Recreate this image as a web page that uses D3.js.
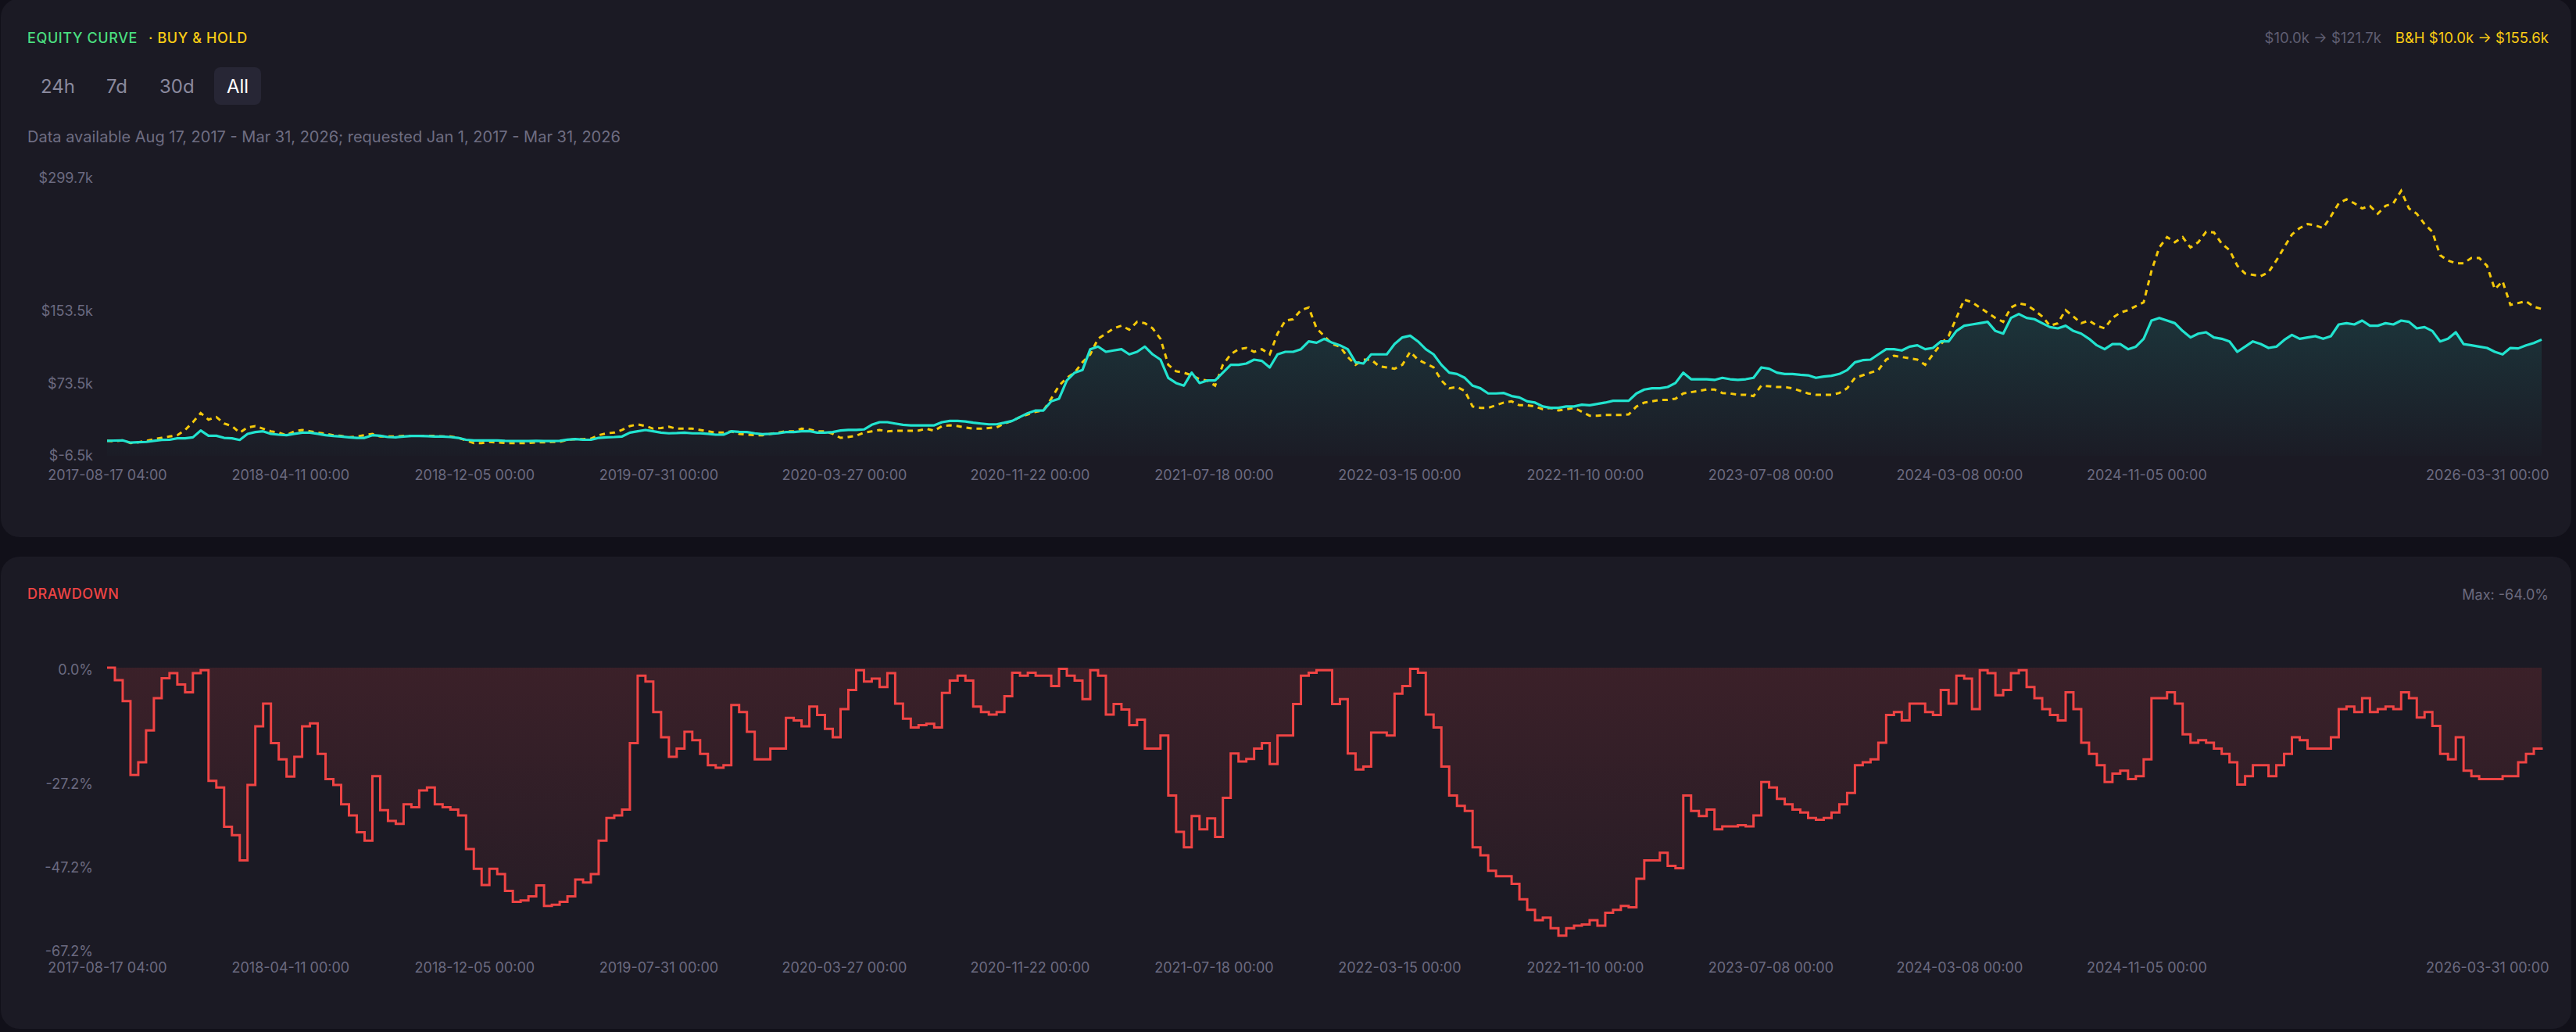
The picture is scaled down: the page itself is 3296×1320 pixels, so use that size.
<!DOCTYPE html>
<html>
<head>
  <meta charset="utf-8">
  <title>equity curve</title>
  <style>
    html, body {
      margin: 0;
      padding: 0;
      background: #111019;
    }
    svg text {
      font-family: Inter, 'Noto Sans', sans-serif;
    }
    .panel {
      fill: #1b1a24;
    }
    .axis text {
      fill: #6b6a80;
      font-size: 18px;
    }
    .axis path,
    .axis line {
      display: none;
    }
    .title {
      font-size: 18px;
      font-weight: 500;
      letter-spacing: 0.6px;
    }
    .btn {
      fill: #8a899d;
      font-size: 24px;
    }
  </style>
</head>
<body>
<script src="https://d3js.org/d3.v7.min.js"></script>
<script>
  var width = 3296,
      height = 1320;

  // strategy equity, $k, evenly spaced samples from first to last bar
  var equity = [10.0, 10.3, 10.5, 8.0, 8.5, 8.8, 10.0, 11.0, 11.2, 12.8,
    12.8, 13.9, 21.4, 15.6, 15.6, 13.3, 12.8, 11.0, 17.7, 19.7,
    20.5, 17.7, 16.8, 16.2, 17.7, 19.1, 19.1, 17.7, 16.2, 15.4,
    14.8, 13.9, 13.3, 13.3, 16.2, 15.6, 14.2, 13.9, 14.8, 15.4,
    15.4, 15.1, 14.8, 14.8, 14.2, 13.3, 11.2, 10.5, 10.5, 10.5,
    10.5, 10.0, 9.8, 9.8, 9.8, 10.0, 9.8, 9.8, 10.0, 11.3,
    11.9, 11.3, 11.2, 13.3, 13.9, 14.2, 14.8, 19.1, 20.5, 22.0,
    20.5, 19.1, 18.3, 18.6, 19.1, 18.3, 18.3, 17.7, 16.8, 16.8,
    20.5, 19.9, 19.7, 18.3, 17.4, 17.7, 18.3, 19.7, 19.7, 20.5,
    20.8, 19.1, 19.1, 19.7, 21.4, 22.0, 22.0, 22.6, 27.7, 30.6,
    30.6, 29.1, 27.7, 27.1, 27.1, 27.1, 27.1, 30.6, 32.0, 32.0,
    31.4, 30.0, 29.1, 28.2, 28.2, 30.0, 32.0, 36.3, 40.6, 43.5,
    43.5, 53.6, 56.5, 76.6, 85.2, 88.1, 111.1, 114.0, 108.2, 109.7,
    111.1, 105.4, 108.2, 114.0, 105.4, 99.6, 79.5, 73.8, 70.9, 85.2,
    73.8, 76.6, 76.6, 85.2, 93.9, 93.9, 95.3, 99.6, 98.2, 91.0,
    105.4, 108.2, 108.2, 111.1, 119.7, 118.3, 122.6, 118.3, 115.4, 111.1,
    96.7, 95.3, 105.4, 105.4, 105.4, 116.8, 124.1, 126.0, 119.7, 111.1,
    105.4, 93.9, 85.2, 83.8, 79.5, 70.9, 68.0, 62.3, 62.3, 62.8,
    59.4, 57.9, 53.6, 52.2, 47.9, 46.4, 46.4, 47.9, 47.9, 49.9,
    49.3, 50.8, 52.2, 54.2, 54.2, 54.2, 62.3, 66.6, 68.0, 68.0,
    69.4, 73.8, 85.2, 78.0, 78.0, 78.0, 77.2, 79.5, 78.0, 77.2,
    78.0, 79.5, 91.0, 89.6, 85.2, 83.8, 83.8, 82.9, 82.3, 79.5,
    80.9, 81.8, 83.8, 88.1, 96.7, 99.0, 99.6, 105.4, 111.1, 111.1,
    109.7, 113.9, 115.4, 111.1, 112.5, 119.7, 119.7, 131.2, 137.0, 138.4,
    139.8, 141.3, 131.2, 128.3, 145.6, 149.9, 145.6, 144.2, 139.8, 135.5,
    134.1, 137.0, 131.2, 128.3, 122.6, 115.4, 111.1, 116.8, 116.8, 111.1,
    113.9, 122.6, 142.7, 145.6, 142.7, 139.8, 131.2, 124.1, 128.3, 129.8,
    124.1, 122.6, 119.7, 108.2, 113.9, 119.7, 116.8, 112.5, 113.9, 121.2,
    126.9, 122.6, 124.1, 125.5, 122.6, 125.5, 138.4, 139.8, 138.4, 142.7,
    137.0, 137.0, 139.8, 138.4, 142.7, 141.3, 134.1, 135.5, 131.2, 119.7,
    122.6, 129.8, 116.8, 115.4, 113.9, 112.5, 108.2, 105.4, 112.5, 112.0,
    115.4, 118.0, 121.7];

  // buy & hold, $k, same sample dates
  var buyHold = [10.0, 9.6, 10.5, 7.6, 8.3, 10.0, 11.9, 13.3, 14.8, 16.2,
    22.0, 30.6, 40.6, 33.4, 36.3, 29.1, 26.3, 19.1, 24.8, 26.3,
    23.4, 20.5, 19.1, 16.2, 20.5, 22.0, 20.5, 19.1, 17.7, 16.2,
    15.4, 13.9, 14.8, 16.2, 17.7, 14.8, 14.8, 14.8, 15.4, 15.4,
    15.4, 15.4, 15.4, 14.8, 14.8, 13.3, 10.5, 7.6, 7.6, 8.8,
    8.3, 7.6, 7.6, 7.6, 7.6, 8.3, 8.3, 8.8, 9.0, 11.0,
    11.9, 11.9, 12.4, 16.2, 18.3, 19.1, 22.0, 26.3, 28.2, 26.3,
    23.4, 24.2, 25.5, 23.4, 23.4, 23.4, 22.0, 20.5, 19.1, 19.1,
    20.5, 17.7, 16.8, 16.2, 16.2, 17.7, 19.1, 20.5, 20.5, 23.4,
    22.6, 20.5, 20.5, 17.7, 13.3, 14.2, 15.6, 19.1, 20.5, 22.0,
    20.5, 21.1, 21.1, 21.1, 21.4, 23.4, 21.1, 26.3, 27.1, 26.3,
    24.8, 23.4, 23.4, 24.2, 24.8, 29.1, 32.0, 36.3, 39.1, 42.1,
    43.5, 56.5, 70.9, 79.5, 85.2, 96.7, 105.4, 122.6, 128.3, 134.1,
    137.0, 132.7, 141.3, 139.8, 134.1, 122.6, 93.9, 86.7, 85.2, 82.3,
    78.0, 76.6, 70.9, 93.9, 105.4, 111.1, 112.5, 108.2, 111.1, 105.4,
    128.3, 142.7, 144.2, 154.2, 157.1, 134.1, 125.5, 116.8, 113.9, 102.5,
    93.9, 99.6, 99.6, 92.4, 91.0, 89.6, 93.9, 108.2, 99.6, 95.3,
    91.0, 76.6, 68.0, 69.4, 65.1, 47.9, 46.4, 46.4, 49.3, 52.2,
    53.6, 49.3, 49.3, 47.9, 44.9, 46.4, 43.5, 44.9, 46.4, 42.1,
    37.7, 37.7, 38.6, 38.6, 38.6, 39.1, 47.9, 52.2, 53.6, 55.1,
    55.1, 56.5, 62.3, 63.7, 65.1, 66.6, 66.6, 62.8, 62.3, 60.8,
    60.8, 59.4, 70.9, 70.3, 69.4, 69.4, 68.0, 65.1, 62.3, 60.8,
    60.8, 60.8, 62.8, 68.0, 79.5, 82.3, 85.2, 88.1, 99.6, 103.9,
    102.5, 101.0, 99.6, 93.9, 105.4, 116.8, 125.5, 145.6, 165.8, 162.9,
    157.1, 151.4, 145.6, 141.3, 157.1, 161.5, 160.0, 154.2, 147.1, 137.0,
    139.8, 154.2, 147.1, 139.8, 142.7, 137.0, 134.1, 145.6, 151.4, 154.2,
    158.6, 162.9, 197.4, 223.3, 234.8, 229.1, 234.8, 223.3, 229.1, 240.6,
    240.0, 227.6, 220.5, 203.2, 194.6, 193.1, 191.7, 196.0, 208.9, 223.3,
    237.7, 244.8, 249.2, 247.7, 244.8, 257.8, 272.1, 276.5, 272.1, 266.4,
    269.2, 260.6, 269.2, 272.1, 285.8, 266.4, 260.6, 249.2, 240.6, 214.7,
    208.9, 206.0, 206.0, 211.8, 211.8, 203.2, 177.3, 186.0, 160.0, 162.0,
    164.0, 158.0, 155.6];

  // drawdown from running peak, %
  var drawdown = [0, -3, -8, -25.6, -22.6, -15, -7.3, -2.5, -1.3, -4,
    -5.9, -1.3, -0.6, -27, -28.6, -38, -40, -46, -28, -14,
    -8.6, -18, -21.9, -26, -21.3, -14, -13.3, -20.6, -26.6, -28,
    -32.6, -35.3, -39.3, -41.3, -25.9, -34, -36.6, -37.3, -32.6, -33.3,
    -29.3, -28.6, -32.6, -33.3, -33.9, -35.3, -43.3, -48, -51.9, -48,
    -49.3, -53.3, -55.9, -55.6, -54.6, -52, -56.9, -56.6, -55.9, -54.6,
    -50.6, -51.3, -49.3, -41.3, -35.9, -35.3, -33.9, -18, -1.9, -3.3,
    -10.6, -16.6, -21.3, -19.3, -15.3, -17.3, -20.6, -23.3, -23.9, -23.3,
    -8.9, -10.6, -15.3, -21.9, -21.9, -19.3, -19.3, -12, -12.6, -14,
    -9.3, -11.3, -14.6, -16.6, -9.9, -5.3, -0.6, -3.3, -2.6, -4.6,
    -1.3, -8.6, -12.2, -14.3, -13.7, -13.4, -14.3, -6, -3.1, -1.9,
    -3.1, -9.3, -10.6, -11.2, -10.6, -6.8, -1.2, -1.9, -1.2, -1.9,
    -1.9, -4.4, -0.3, -1.9, -3.1, -7.5, -0.6, -1.9, -11.2, -8.7,
    -10.0, -13.7, -12.4, -19.3, -19.3, -16.2, -30.5, -39.2, -42.9, -35.4,
    -38.6, -36, -40.4, -31.1, -20.5, -22.4, -21.8, -19.3, -18.0, -23,
    -16.2, -16.2, -8.7, -1.9, -1.2, -0.6, -0.6, -8.7, -7.5, -20.5,
    -24.3, -23.6, -15.5, -15.5, -16.2, -6.2, -4.4, -0.3, -1.2, -11.2,
    -14.3, -23.6, -30.5, -33, -34.2, -42.9, -44.8, -48.5, -49.8, -49.8,
    -51.6, -55.3, -57.8, -60.3, -59.7, -62.2, -64.0, -62.2, -61.6, -61.3,
    -60.3, -61.6, -58.5, -57.8, -56.9, -57.2, -50.4, -46, -46.0, -44.2,
    -47.3, -47.9, -30.5, -34.2, -35.4, -33.9, -38.6, -37.9, -37.9, -37.6,
    -37.9, -35.3, -27.3, -28.6, -31.3, -32.6, -33.9, -34.6, -35.9, -36.3,
    -35.9, -34.6, -32.6, -29.9, -23.3, -22.6, -21.9, -17.9, -11.3, -10.6,
    -12.6, -8.6, -8.6, -10.6, -11.3, -5.3, -8.6, -1.9, -2.6, -9.9,
    -0.6, -1.3, -6.6, -5.3, -1.3, -0.6, -4.6, -7.3, -9.9, -11.3,
    -12.6, -5.9, -9.9, -17.9, -20.6, -23.3, -27.3, -25.3, -24.6, -26.6,
    -25.9, -21.9, -7.3, -7.3, -5.9, -8.6, -15.9, -17.9, -17.3, -17.9,
    -19.3, -20.6, -22.6, -27.9, -25.9, -23.3, -23.3, -25.9, -23.3, -20.6,
    -16.6, -17.3, -19.3, -19.3, -19.3, -16.6, -9.9, -9.3, -10.6, -7.3,
    -10.6, -9.9, -9.3, -9.9, -5.9, -7.3, -11.9, -10.6, -13.9, -20.6,
    -21.9, -16.6, -24.6, -25.9, -26.6, -26.6, -26.6, -25.9, -25.9, -22.6,
    -20.6, -19.3, -19.6];

  var startLabel = '2017-08-17 04:00',
      endLabel = '2026-03-31 00:00';

  var xTickLabels = ['2017-08-17 04:00', '2018-04-11 00:00', '2018-12-05 00:00',
    '2019-07-31 00:00', '2020-03-27 00:00', '2020-11-22 00:00', '2021-07-18 00:00',
    '2022-03-15 00:00', '2022-11-10 00:00', '2023-07-08 00:00', '2024-03-08 00:00',
    '2024-11-05 00:00', '2026-03-31 00:00'];

  var equityTicks = [-6.5, 73.5, 153.5, 299.7];
  var drawdownTicks = [0, -27.2, -47.2, -67.2];

  var parseTime = d3.timeParse('%Y-%m-%d %H:%M');
  var t0 = parseTime(startLabel), t1 = parseTime(endLabel);

  var svg = d3.select('body')
    .append('svg')
    .attr('width', width)
    .attr('height', height);

  var defs = svg.append('defs');

  var tealGrad = defs.append('linearGradient')
    .attr('id', 'tealFill').attr('x1', 0).attr('y1', 0).attr('x2', 0).attr('y2', 1);
  tealGrad.append('stop').attr('offset', '0%').attr('stop-color', '#22e3cf').attr('stop-opacity', 0.13);
  tealGrad.append('stop').attr('offset', '100%').attr('stop-color', '#22e3cf').attr('stop-opacity', 0.01);

  var redGrad = defs.append('linearGradient')
    .attr('id', 'redFill').attr('x1', 0).attr('y1', 0).attr('x2', 0).attr('y2', 1);
  redGrad.append('stop').attr('offset', '0%').attr('stop-color', '#ef4444').attr('stop-opacity', 0.15);
  redGrad.append('stop').attr('offset', '100%').attr('stop-color', '#ef4444').attr('stop-opacity', 0.05);

  // cards
  svg.append('rect').attr('class', 'panel')
    .attr('x', 1).attr('y', -2).attr('width', 3289).attr('height', 689).attr('rx', 24);
  svg.append('rect').attr('class', 'panel')
    .attr('x', 1).attr('y', 712).attr('width', 3289).attr('height', 604).attr('rx', 24);

  var padding = {left: 137, right: 3252};

  var xScale = d3.scaleTime()
    .domain([t0, t1])
    .range([padding.left, padding.right]);

  // sample index -> date, for a series of n evenly spaced samples
  function sampleX(n) {
    var idx = d3.scaleLinear().domain([0, n - 1]).range([t0.getTime(), t1.getTime()]);
    return function(d, i) { return xScale(new Date(idx(i))); };
  }

  var yEq = d3.scaleLinear()
    .domain([equityTicks[0], equityTicks[equityTicks.length - 1]])
    .range([583, 228]);

  var yDd = d3.scaleLinear()
    .domain([drawdownTicks[drawdownTicks.length - 1], 0])
    .range([1214, 854]);

  // ---- header texts
  var head = svg.append('text').attr('class', 'title').attr('x', 35).attr('y', 48)
    .attr('dominant-baseline', 'central');
  head.append('tspan').attr('fill', '#4ade80').text('EQUITY CURVE');
  head.append('tspan').attr('fill', '#facc15').attr('dx', 14).text('· BUY & HOLD');

  var summary = svg.append('text').attr('x', 3261).attr('y', 48)
    .attr('text-anchor', 'end').attr('dominant-baseline', 'central')
    .style('font-size', '18.5px');
  summary.append('tspan').attr('fill', '#5f5e72').text('$10.0k → $121.7k');
  summary.append('tspan').attr('fill', '#facc15').attr('dx', 18).text('B&H $10.0k → $155.6k');

  var ranges = [{t: '24h', x: 52}, {t: '7d', x: 136}, {t: '30d', x: 204}, {t: 'All', x: 290, on: true}];
  svg.append('rect').attr('x', 274).attr('y', 86).attr('width', 60).attr('height', 48)
    .attr('rx', 8).attr('fill', '#272635');
  svg.selectAll('.btn')
    .data(ranges)
    .enter()
    .append('text')
    .attr('class', 'btn')
    .attr('x', function(d) { return d.x; })
    .attr('y', 110)
    .attr('dominant-baseline', 'central')
    .style('fill', function(d) { return d.on ? '#ffffff' : null; })
    .text(function(d) { return d.t; });

  svg.append('text').attr('x', 35).attr('y', 175).attr('dominant-baseline', 'central')
    .attr('fill', '#6e6d82').style('font-size', '20px')
    .text('Data available Aug 17, 2017 - Mar 31, 2026; requested Jan 1, 2017 - Mar 31, 2026');

  // ---- equity chart
  var eqArea = d3.area()
    .x(sampleX(equity.length))
    .y0(583)
    .y1(function(d) { return yEq(d); });

  svg.append('path').datum(equity)
    .attr('d', eqArea)
    .attr('fill', 'url(#tealFill)');

  svg.append('path').datum(buyHold)
    .attr('d', d3.line().x(sampleX(buyHold.length)).y(function(d) { return yEq(d); }))
    .attr('fill', 'none')
    .attr('stroke', '#f5c90a')
    .attr('stroke-width', 3)
    .attr('stroke-dasharray', '7,6');

  svg.append('path').datum(equity)
    .attr('d', d3.line().x(sampleX(equity.length)).y(function(d) { return yEq(d); }))
    .attr('fill', 'none')
    .attr('stroke', '#22e3cf')
    .attr('stroke-width', 3.2)
    .attr('stroke-linejoin', 'round');

  var yAxisEq = d3.axisLeft(yEq)
    .tickValues(equityTicks)
    .tickSize(0)
    .tickPadding(18)
    .tickFormat(function(d) { return '$' + d.toFixed(1) + 'k'; });

  svg.append('g').attr('class', 'axis')
    .attr('transform', 'translate(' + padding.left + ',0)')
    .call(yAxisEq);

  var xTicks = xTickLabels.map(function(s) { return parseTime(s); });
  var fmt = d3.timeFormat('%Y-%m-%d %H:%M');

  function drawXAxis(y, pad) {
    var ax = d3.axisBottom(xScale)
      .tickValues(xTicks)
      .tickSize(0)
      .tickPadding(pad)
      .tickFormat(fmt);
    var g = svg.append('g').attr('class', 'axis')
      .attr('transform', 'translate(0,' + y + ')')
      .call(ax);
    // keep the last label inside the card
    g.selectAll('.tick').filter(function(d, i) { return i === xTicks.length - 1; })
      .select('text')
      .attr('text-anchor', 'end')
      .attr('x', 9);
  }

  drawXAxis(583, 18);

  // ---- drawdown chart
  svg.append('text').attr('class', 'title').attr('x', 35).attr('y', 759)
    .attr('dominant-baseline', 'central').attr('fill', '#ef4444')
    .text('DRAWDOWN');

  svg.append('text').attr('x', 3261).attr('y', 760)
    .attr('text-anchor', 'end').attr('dominant-baseline', 'central')
    .attr('fill', '#6b6a7e').style('font-size', '18px')
    .text('Max: ' + d3.min(drawdown).toFixed(1) + '%');

  var ddX = sampleX(drawdown.length);

  var ddArea = d3.area()
    .curve(d3.curveStepAfter)
    .x(ddX)
    .y0(yDd(0))
    .y1(function(d) { return yDd(d); });

  var ddLine = d3.line()
    .curve(d3.curveStepAfter)
    .x(ddX)
    .y(function(d) { return yDd(d); });

  svg.append('path').datum(drawdown)
    .attr('d', ddArea)
    .attr('fill', 'url(#redFill)');

  svg.append('path').datum(drawdown)
    .attr('d', ddLine)
    .attr('fill', 'none')
    .attr('stroke', '#ef4444')
    .attr('stroke-width', 3);

  var yAxisDd = d3.axisLeft(yDd)
    .tickValues(drawdownTicks)
    .tickSize(0)
    .tickPadding(18)
    .tickFormat(function(d) { return d.toFixed(1) + '%'; });

  svg.append('g').attr('class', 'axis')
    .attr('transform', 'translate(' + padding.left + ',3)')
    .call(yAxisDd);

  drawXAxis(1214, 17);
</script>
</body>
</html>
